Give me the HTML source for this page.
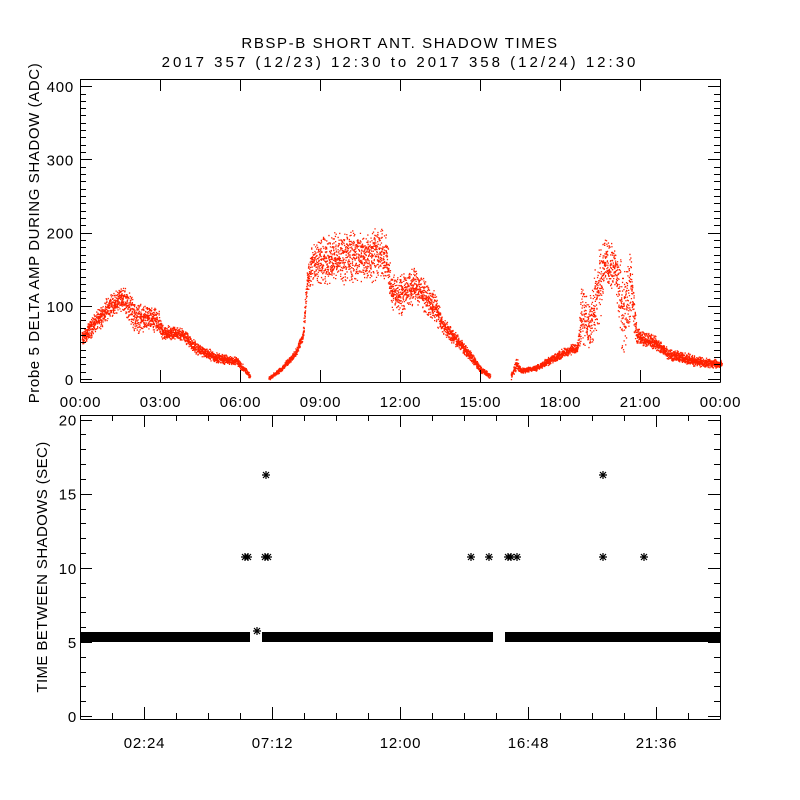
<!DOCTYPE html>
<html><head><meta charset="utf-8"><style>
html,body{margin:0;padding:0;background:#fff;}
svg{display:block;font-family:"Liberation Sans",sans-serif;}
text{font-size:15px;fill:#000;}
</style></head><body>
<svg id="s" width="800" height="800" viewBox="0 0 800 800" xmlns="http://www.w3.org/2000/svg">
<rect width="800" height="800" fill="#fff"/>
<text x="400" y="48" text-anchor="middle" font-size="17" letter-spacing="1.6">RBSP-B SHORT ANT. SHADOW TIMES</text>
<text x="400" y="67" text-anchor="middle" font-size="17" letter-spacing="3">2017 357 (12/23) 12:30 to 2017 358 (12/24) 12:30</text>
<g id="dots"></g>
<g id="ax" stroke="#000" stroke-width="1" fill="none"></g>
<g id="lbl"></g>
<text transform="translate(39,233) rotate(-90)" text-anchor="middle" letter-spacing="0.6">Probe 5 DELTA AMP DURING SHADOW (ADC)</text>
<text transform="translate(47,567) rotate(-90)" text-anchor="middle" letter-spacing="0.4">TIME BETWEEN SHADOWS (SEC)</text>
</svg>
<script>
var NS="http://www.w3.org/2000/svg";
var ax=document.getElementById('ax'),lbl=document.getElementById('lbl'),dots=document.getElementById('dots');
function L(x1,y1,x2,y2){var e=document.createElementNS(NS,'line');e.setAttribute('x1',x1);e.setAttribute('y1',y1);e.setAttribute('x2',x2);e.setAttribute('y2',y2);ax.appendChild(e);}
function T(x,y,s,a){var e=document.createElementNS(NS,'text');e.setAttribute('x',x);e.setAttribute('y',y);e.setAttribute('text-anchor',a||'middle');e.setAttribute('letter-spacing','0.8');e.textContent=s;lbl.appendChild(e);}
var X0=80,X1=720,TT=79,TB=382;
function ty(v){return 379-v*0.732;}
L(X0+.5,TT+.5,X1+.5,TT+.5);L(X0+.5,TB+.5,X1+.5,TB+.5);L(X0+.5,TT,X0+.5,TB+.5);L(X1+.5,TT,X1+.5,TB+.5);
for(var v=0;v<=410;v+=10){var y=Math.round(ty(v))+.5;var len=(v%100==0)?12:6;L(X0,y,X0+len,y);L(X1-len,y,X1,y);}
for(var v=0;v<=400;v+=100)T(74,ty(v)+6,String(v),'end');
var tl=['00:00','03:00','06:00','09:00','12:00','15:00','18:00','21:00','00:00'];
for(var i=0;i<=8;i++){var x=X0+i*80+.5;L(x,TB,x,TB-12);L(x,TT,x,TT+12);T(x,407,tl[i]);}
var BT=415,BB=719;
function by(v){return 716-v*14.82;}
L(X0+.5,BT+.5,X1+.5,BT+.5);L(X0+.5,BB+.5,X1+.5,BB+.5);L(X0+.5,BT,X0+.5,BB+.5);L(X1+.5,BT,X1+.5,BB+.5);
for(var v=0;v<=20;v++){var y=Math.round(by(v))+.5;var len=(v%5==0)?12:6;L(X0,y,X0+len,y);L(X1-len,y,X1,y);}
for(var v=0;v<=20;v+=5)T(77,by(v)+6,String(v),'end');
for(var x=112;x<720;x+=32){var big=((x-144)%128==0);var len=big?12:6;L(x+.5,BB,x+.5,BB-len);L(x+.5,BT,x+.5,BT+len);}
var bl=['02:24','07:12','12:00','16:48','21:36'];
for(var i=0;i<5;i++)T(144+i*128+.5,748,bl[i]);
var sd=12345;function R(){sd=(sd*1103515245+12345)&0x7fffffff;return sd/0x7fffffff;}
var P=[[0,55,9],[0.5,78,12],[1,98,14],[1.5,112,14],[1.75,100,18],[2,85,18],[2.5,82,15],[2.9,78,15],[3,65,9],[3.8,62,7],[4.2,45,7],[5,30,6],[5.8,25,5],[6.3,5,3],[6.31,-99,0],[6.95,-99,0],[7.0,1,2],[7.5,15,3],[8,35,4],[8.3,60,6],[8.45,135,15],[8.6,155,22],[9,163,28],[10,168,30],[11.4,172,30],[11.5,145,20],[11.6,120,20],[12,118,25],[12.5,130,20],[13.3,95,18],[13.5,75,9],[14,55,8],[14.5,35,6],[15,12,4],[15.3,5,3],[15.31,-99,0],[16.05,-99,0],[16.1,5,3],[16.3,22,7],[16.45,12,3],[17,15,3],[18,35,6],[18.6,45,6],[18.75,100,40],[19.0,70,25],[19.3,110,50],[19.6,160,28],[20,150,28],[20.3,90,50],[20.6,130,40],[20.8,60,10],[21.5,50,8],[22,35,7],[23,25,6],[24,20,5]];
function env(t){for(var i=1;i<P.length;i++){if(t<=P[i][0]){var a=P[i-1],b=P[i],f=(t-a[0])/(b[0]-a[0]);return [a[1]+f*(b[1]-a[1]),a[2]+f*(b[2]-a[2])];}}return [20,4];}
var s='';
for(var t=0;t<24;t+=0.003){var e=env(t);if(e[0]<-1)continue;var v=e[0]+(R()+R()-1)*e[1]*1.3;if(v<0)v=R()*3;var x=(X0+1+t*26.667+R()).toFixed(1);s+='M'+x+' '+ty(v).toFixed(1)+'h1.3v1.3h-1.3z';}
var p=document.createElementNS(NS,'path');p.setAttribute('d',s);p.setAttribute('fill','#ff2000');dots.appendChild(p);
function band(x1,x2){var r=document.createElementNS(NS,'rect');r.setAttribute('x',x1);r.setAttribute('y',632);r.setAttribute('width',x2-x1);r.setAttribute('height',10);r.setAttribute('fill','#000');dots.appendChild(r);}
band(81,250);band(262,493);band(505,720);
function star(x,y){var g='M'+(x-4)+' '+y+'h8M'+x+' '+(y-4)+'v8M'+(x-3)+' '+(y-3)+'l6 6M'+(x+3)+' '+(y-3)+'l-6 6';var e=document.createElementNS(NS,'path');e.setAttribute('d',g);e.setAttribute('stroke','#000');e.setAttribute('stroke-width','1.2');dots.appendChild(e);}
var st=[[245,557],[248,557],[265,557],[268,557],[266,475],[257,631],[471,557],[489,557],[508,557],[511,557],[517,557],[603,475],[603,557],[644,557]];
st.forEach(function(a){star(a[0],a[1]);});
</script>
</body></html>
